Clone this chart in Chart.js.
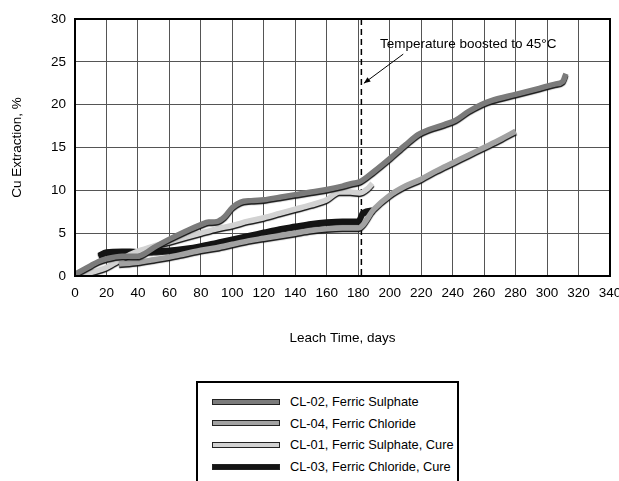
<!DOCTYPE html>
<html>
<head>
<meta charset="utf-8">
<script src="https://cdn.jsdelivr.net/npm/chart.js@4"></script>
<style>
body { margin:0; background:#fff; font-family:"Liberation Sans", Arial, sans-serif; }
#wrap { position:relative; width:619px; height:481px; overflow:hidden; }
#box { position:absolute; left:0; top:0; width:619px; height:350px; }
#legend { position:absolute; left:196px; top:381px; width:263px; height:130px; border:2px solid #000; box-sizing:border-box; background:#fff; padding-top:8px; }
.row { display:flex; align-items:center; height:21.6px; font-size:12.8px; color:#000; white-space:nowrap; }
.swatch { flex:none; width:66px; height:4px; margin-left:14px; margin-right:10px; border:1px solid #222; }
</style>
</head>
<body>
<div id="wrap">
  <div id="box"><canvas id="chart" width="619" height="350"></canvas></div>
  <div id="legend"></div>
</div>
<script>
var seriesNames = ["CL-02, Ferric Sulphate", "CL-04, Ferric Chloride", "CL-01, Ferric Sulphate, Cure", "CL-03, Ferric Chloride, Cure"];

var cl02Days = [0,5,10,15,20,30,40,45,50,60,70,80,85,90,95,100,105,112,120,130,140,150,160,170,176,181,190,200,210,218,225,235,242,250,258,265,280,295,305,310,312];
var cl02Cu   = [0.2,0.7,1.2,1.7,2.0,2.3,2.3,2.7,3.3,4.3,5.2,6.0,6.3,6.35,6.9,8.0,8.6,8.8,8.9,9.2,9.5,9.8,10.1,10.5,10.8,11.0,12.2,13.7,15.3,16.5,17.1,17.7,18.2,19.2,20.0,20.5,21.2,21.9,22.4,22.7,23.6];

var cl04Days = [28,40,50,60,70,80,90,100,110,120,130,140,150,160,170,180,190,200,210,220,230,240,250,260,270,280];
var cl04Cu   = [1.4,1.6,1.9,2.2,2.6,3.0,3.3,3.7,4.1,4.4,4.7,5.0,5.3,5.5,5.6,5.6,7.8,9.4,10.5,11.3,12.3,13.2,14.1,15.0,15.9,16.9];

var cl01Days = [2,10,20,25,30,35,40,50,60,70,80,90,100,110,120,130,140,150,160,168,175,181,186,189];
var cl01Cu   = [0,0.4,1.0,1.5,2.0,2.5,2.9,3.5,4.0,4.5,5.0,5.5,5.9,6.4,6.8,7.3,7.8,8.3,8.9,9.8,9.8,9.7,10.2,10.8];

var cl03Days = [15,20,30,35,40,50,60,70,80,90,100,110,120,130,140,150,160,170,180,183,190];
var cl03Cu   = [2.4,2.8,2.9,2.9,2.8,2.9,3.0,3.2,3.5,3.9,4.3,4.7,5.1,5.5,5.8,6.1,6.3,6.4,6.4,7.4,7.7];

var xTicks = [0,20,40,60,80,100,120,140,160,180,200,220,240,260,280,300,320,340];
var yTicks = [0,5,10,15,20,25,30];

var boostDay = 182;
var note = "Temperature boosted to 45°C";

function pts(days, vals) {
	return days.map(function(d, i) { return {x: d, y: vals[i]}; });
}

var ribbon = {
	id: "ribbon",
	beforeDatasetDraw: function(chart) {
		var c = chart.ctx;
		c.save();
		c.shadowColor = "#111";
		c.shadowOffsetY = 1.5;
		c.shadowBlur = 1;
	},
	afterDatasetDraw: function(chart) {
		chart.ctx.restore();
	}
};

var extras = {
	id: "extras",
	beforeDatasetsDraw: function(chart) {
		var c = chart.ctx, a = chart.chartArea, x = chart.scales.x.getPixelForValue(boostDay);
		c.save();
		c.strokeStyle = "#000";
		c.lineWidth = 1.5;
		c.setLineDash([6, 4]);
		c.beginPath();
		c.moveTo(x, a.top);
		c.lineTo(x, a.bottom);
		c.stroke();
		c.restore();
	},
	afterDatasetsDraw: function(chart) {
		var c = chart.ctx, a = chart.chartArea, sx = chart.scales.x, sy = chart.scales.y;
		c.save();
		c.strokeStyle = "#000";
		c.lineWidth = 2;
		c.strokeRect(a.left, a.top, a.right - a.left, a.bottom - a.top);
		// note + arrow
		c.fillStyle = "#000";
		c.font = "13.5px 'Liberation Sans', Arial, sans-serif";
		c.textBaseline = "middle";
		c.fillText(note, sx.getPixelForValue(193.8), sy.getPixelForValue(27.1));
		var x1 = sx.getPixelForValue(208.6), y1 = sy.getPixelForValue(25.9);
		var x2 = sx.getPixelForValue(183.6), y2 = sy.getPixelForValue(22.5);
		c.lineWidth = 1;
		c.beginPath();
		c.moveTo(x1, y1);
		c.lineTo(x2, y2);
		c.stroke();
		var ang = Math.atan2(y2 - y1, x2 - x1);
		c.beginPath();
		c.moveTo(x2, y2);
		c.lineTo(x2 - 7 * Math.cos(ang - 0.4), y2 - 7 * Math.sin(ang - 0.4));
		c.lineTo(x2 - 7 * Math.cos(ang + 0.4), y2 - 7 * Math.sin(ang + 0.4));
		c.closePath();
		c.fill();
		c.restore();
	}
};

var font = {family: "'Liberation Sans', Arial, sans-serif", size: 13.5};

var chart = new Chart(document.getElementById("chart"), {
	type: "line",
	data: {
		datasets: [
			{label: seriesNames[0], data: pts(cl02Days, cl02Cu), borderColor: "#7b7b7b", backgroundColor: "#7b7b7b"},
			{label: seriesNames[1], data: pts(cl04Days, cl04Cu), borderColor: "#a2a2a2", backgroundColor: "#a2a2a2"},
			{label: seriesNames[2], data: pts(cl01Days, cl01Cu), borderColor: "#d2d2d2", backgroundColor: "#d2d2d2"},
			{label: seriesNames[3], data: pts(cl03Days, cl03Cu), borderColor: "#141414", backgroundColor: "#141414"}
		]
	},
	options: {
		responsive: false,
		animation: false,
		devicePixelRatio: 1,
		layout: {padding: {top: 19, right: 9, left: 0, bottom: 0}},
		elements: {
			line: {borderWidth: 5.5, cubicInterpolationMode: "monotone", borderCapStyle: "butt"},
			point: {radius: 0, hoverRadius: 0}
		},
		plugins: {legend: {display: false}, tooltip: {enabled: false}},
		scales: {
			x: {
				type: "linear",
				min: 0,
				max: 340,
				afterBuildTicks: function(s) { s.ticks = xTicks.map(function(v) { return {value: v}; }); },
				afterFit: function(s) { s.height = 74; s.paddingLeft = 0; s.paddingRight = 0; },
				ticks: {color: "#000", font: font, padding: 9, maxRotation: 0, autoSkip: false},
				grid: {color: "#555", lineWidth: 1, drawTicks: false},
				border: {color: "#000", width: 2},
				title: {display: true, text: "Leach Time, days", color: "#000", font: font, padding: {top: 0, bottom: 4}}
			},
			y: {
				min: 0,
				max: 30,
				afterBuildTicks: function(s) { s.ticks = yTicks.map(function(v) { return {value: v}; }); },
				afterFit: function(s) { s.width = 75; s.paddingTop = 0; s.paddingBottom = 0; },
				ticks: {color: "#000", font: font, padding: 9},
				grid: {color: "#555", lineWidth: 1, drawTicks: false},
				border: {color: "#000", width: 2},
				title: {display: true, text: "Cu Extraction, %", color: "#000", font: font, padding: {top: 9, bottom: 0}}
			}
		}
	},
	plugins: [ribbon, extras]
});

var legend = document.getElementById("legend");
chart.data.datasets.forEach(function(ds) {
	var row = document.createElement("div");
	row.className = "row";
	var sw = document.createElement("span");
	sw.className = "swatch";
	sw.style.background = ds.borderColor;
	var tx = document.createElement("span");
	tx.textContent = ds.label;
	row.appendChild(sw);
	row.appendChild(tx);
	legend.appendChild(row);
});
</script>
</body>
</html>
